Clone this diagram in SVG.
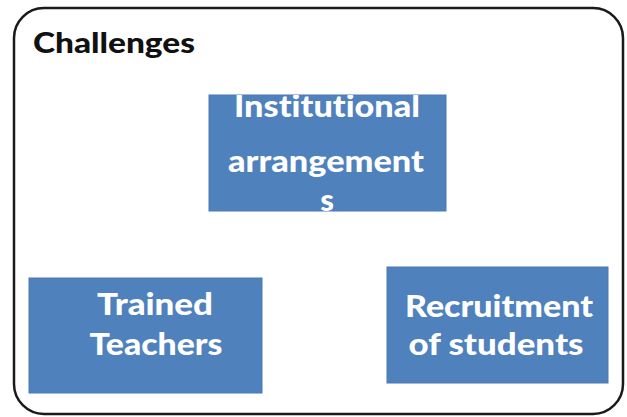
<svg xmlns="http://www.w3.org/2000/svg" width="627" height="417" viewBox="0 0 627 417">
<style>
.box{fill:#4f81bd;stroke:#4a7ab5;stroke-width:1}
.t{font-family:Lato,"Open Sans","Liberation Sans",sans-serif;font-weight:900;font-size:31px;fill:#fff;text-anchor:middle;font-variant-ligatures:none}
.h{font-family:Lato,"Open Sans","Liberation Sans",sans-serif;font-weight:900;font-size:29px;fill:#111;font-variant-ligatures:none}
</style>
<defs>
<clipPath id="c1"><rect x="209" y="95" width="237" height="116"/></clipPath>
</defs>
<rect x="14" y="8" width="609" height="406" rx="30" fill="#fff" stroke="#1a1a1a" stroke-width="2.5"/>
<text class="h" x="33" y="53" textLength="162" lengthAdjust="spacingAndGlyphs">Challenges</text>
<g id="node-institutional">
<rect class="box" x="209" y="95" width="237" height="116"/>
<g clip-path="url(#c1)">
<text class="t" x="327" y="117" textLength="186" lengthAdjust="spacingAndGlyphs">Institutional</text>
<text class="t" x="326" y="172" textLength="196" lengthAdjust="spacingAndGlyphs">arrangement</text>
<text class="t" x="327" y="211">s</text>
</g>
</g>
<g id="node-trained">
<rect class="box" x="29" y="278" width="233" height="115"/>
<text class="t" x="155" y="315" textLength="116" lengthAdjust="spacingAndGlyphs">Trained</text>
<text class="t" x="156" y="355" textLength="133" lengthAdjust="spacingAndGlyphs">Teachers</text>
</g>
<g id="node-recruitment">
<rect class="box" x="387" y="267" width="221" height="116"/>
<text class="t" x="499" y="317" textLength="188" lengthAdjust="spacingAndGlyphs">Recruitment</text>
<text class="t" x="496" y="355" textLength="175" lengthAdjust="spacingAndGlyphs">of students</text>
</g>
<g id="connectors"></g>
</svg>
